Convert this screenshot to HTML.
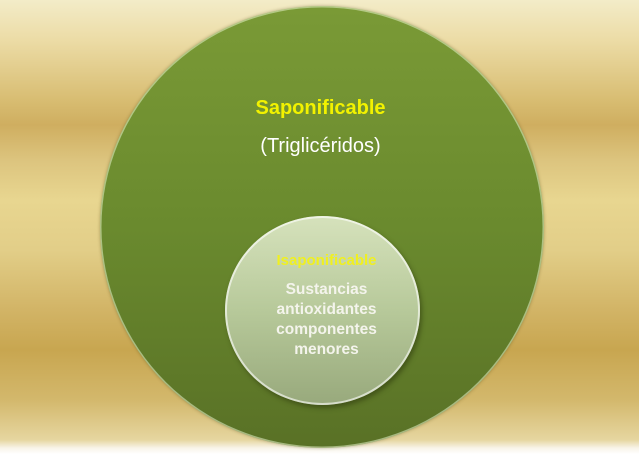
<!DOCTYPE html>
<html><head><meta charset="utf-8"><style>
html,body{margin:0;padding:0;}
body{width:639px;height:454px;overflow:hidden;position:relative;
background:linear-gradient(to bottom,#f3ecc8 0px,#ecdca6 40px,#d8bd72 100px,#cfae60 125px,#dcc47e 160px,#e8d690 200px,#e2ce88 250px,#d2b466 310px,#c8a650 350px,#d3b86c 400px,#e6d6a0 440px,#f8f4e8 448px,#ffffff 454px);
font-family:"Liberation Sans",sans-serif;}
.big{position:absolute;left:100px;top:6px;width:444px;height:442px;border-radius:50%;
background:linear-gradient(to bottom,#7a9a36,#6a8a2e 50%,#597126);
box-shadow:inset 0 0 0 1.5px rgba(230,240,200,0.55),0 0 3px rgba(80,70,20,0.4);}
.small{position:absolute;left:225px;top:216px;width:195px;height:189px;border-radius:50%;
background:linear-gradient(to bottom,#d6e2bc,#b7c99a 50%,#98a97c);
box-shadow:inset 0 0 0 2px rgba(255,255,255,0.6),2px 3px 5px rgba(40,50,10,0.5);}
.t{position:absolute;left:0;width:639px;text-align:center;}
</style></head><body>
<div class="big"></div>
<div class="small"></div>
<div class="t" style="left:1px;top:97px;font-size:20px;font-weight:bold;color:#f2f200;">Saponificable</div>
<div class="t" style="left:1px;top:135px;font-size:20px;color:#ffffff;">(Triglicéridos)</div>
<div class="t" style="left:7px;top:252px;font-size:15px;font-weight:bold;color:#f0f020;">Isaponificable</div>
<div class="t" style="left:7px;top:280px;font-size:15.5px;font-weight:bold;color:#f4f4ec;line-height:20px;">Sustancias<br>antioxidantes<br>componentes<br>menores</div>
</body></html>
